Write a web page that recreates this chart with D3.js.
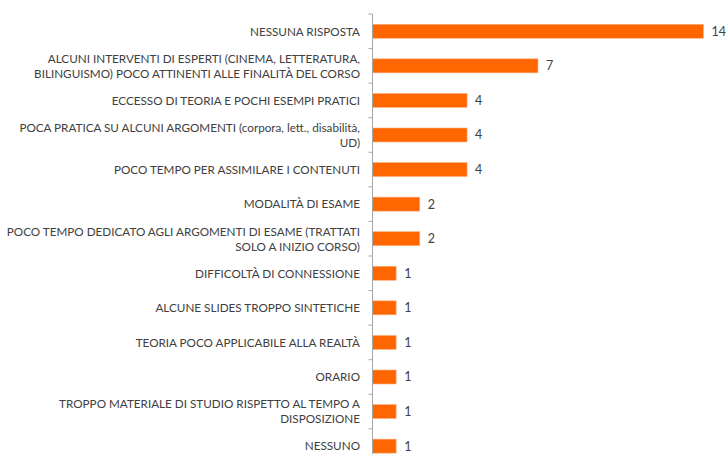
<!DOCTYPE html>
<head>
    <meta charset="utf-8">
    <title>Criticità del corso</title>
    <style>
        html, body {
            margin: 0;
            background: #fff;
        }
        svg text {
            font-family: Lato, "Liberation Sans", Arial, sans-serif;
            fill: #404040;
        }
    </style>
</head>
<body>
<script src="https://cdn.jsdelivr.net/npm/d3@7"></script>
<script>

    // categories (line breaks as in the picture)
    const categories = [
        ["NESSUNA RISPOSTA"],
        ["ALCUNI INTERVENTI DI ESPERTI (CINEMA, LETTERATURA,", "BILINGUISMO) POCO ATTINENTI ALLE FINALITÀ DEL CORSO"],
        ["ECCESSO DI TEORIA E POCHI ESEMPI PRATICI"],
        ["POCA PRATICA SU ALCUNI ARGOMENTI (corpora, lett., disabilità,", "UD)"],
        ["POCO TEMPO PER ASSIMILARE I CONTENUTI"],
        ["MODALITÀ DI ESAME"],
        ["POCO TEMPO DEDICATO AGLI ARGOMENTI DI ESAME (TRATTATI", "SOLO A INIZIO CORSO)"],
        ["DIFFICOLTÀ DI CONNESSIONE"],
        ["ALCUNE SLIDES TROPPO SINTETICHE"],
        ["TEORIA POCO APPLICABILE ALLA REALTÀ"],
        ["ORARIO"],
        ["TROPPO MATERIALE DI STUDIO RISPETTO AL TEMPO A", "DISPOSIZIONE"],
        ["NESSUNO"]
    ];
    const values = [14, 7, 4, 4, 4, 2, 2, 1, 1, 1, 1, 1, 1];

    const width = 726, height = 454;
    const axisX = 372.5, plotTop = 14, band = 34.57;

    const svg = d3.select("body").append("svg")
        .attr("width", width)
        .attr("height", height);

    const idx = d3.range(values.length);

    const y = d3.scaleBand()
        .domain(idx)
        .range([plotTop, plotTop + band * idx.length])
        .paddingInner(0.595)
        .paddingOuter(0.2975);

    const x = d3.scaleLinear()
        .domain([0, 14])
        .range([axisX, axisX + 331]);

    // bars
    svg.append("g").selectAll("rect")
        .data(idx)
        .enter().append("rect")
        .attr("x", x(0))
        .attr("y", i => y(i))
        .attr("width", i => x(values[i]) - x(0))
        .attr("height", y.bandwidth())
        .attr("fill", "#ff6600")
        .attr("stroke", "#ffb080")
        .attr("stroke-width", 0.6);

    // axis line + tick marks between categories
    const ax = svg.append("g");
    ax.append("line")
        .attr("x1", axisX).attr("x2", axisX)
        .attr("y1", plotTop).attr("y2", plotTop + band * idx.length)
        .attr("stroke", "#a6a6a6").attr("stroke-width", 1);
    ax.selectAll("line.tick")
        .data(d3.range(idx.length + 1))
        .enter().append("line")
        .attr("class", "tick")
        .attr("x1", axisX - 4).attr("x2", axisX)
        .attr("y1", k => plotTop + band * k).attr("y2", k => plotTop + band * k)
        .attr("stroke", "#a6a6a6").attr("stroke-width", 1);

    // category labels
    const labels = svg.append("g").selectAll("text")
        .data(idx)
        .enter().append("text")
        .attr("text-anchor", "end")
        .attr("font-size", "11.7px")
        .attr("y", i => y(i) + y.bandwidth() / 2);
    labels.each(function (i) {
        const lines = categories[i];
        const t = d3.select(this);
        lines.forEach((ln, j) => {
            t.append("tspan")
                .attr("x", 360)
                .attr("dy", j === 0 ? (-(lines.length - 1) * 7.5 + 4.3) : 15)
                .text(ln);
        });
    });

    // value labels
    svg.append("g").selectAll("text")
        .data(idx)
        .enter().append("text")
        .attr("x", i => x(values[i]) + 8)
        .attr("y", i => y(i) + y.bandwidth() / 2 + 4.5)
        .attr("font-size", "12.5px")
        .text(i => values[i]);

</script>
</body>
